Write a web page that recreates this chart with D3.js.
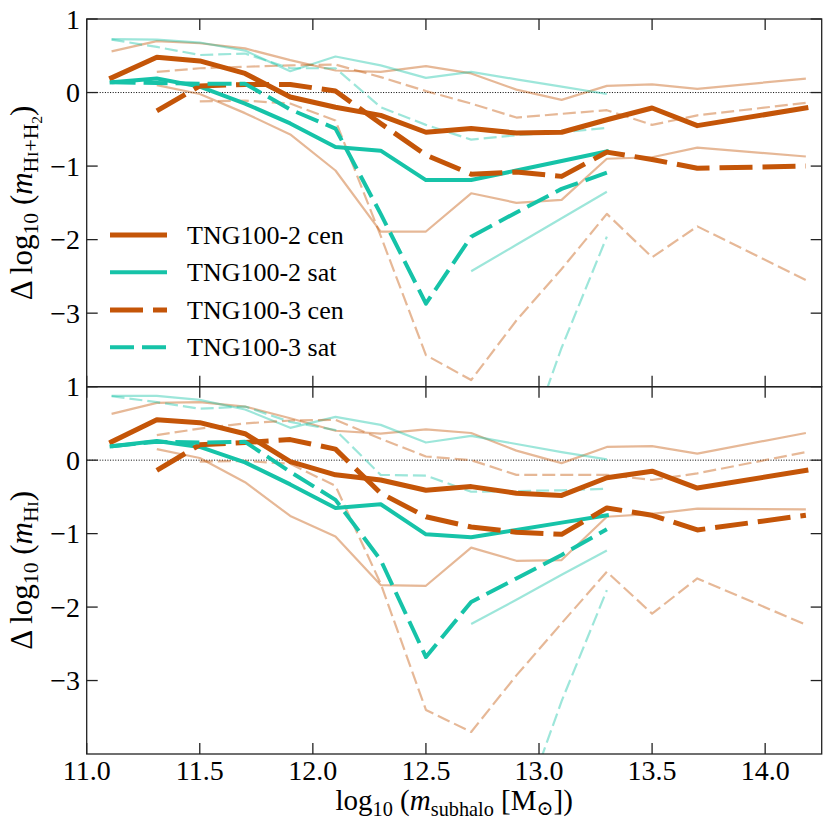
<!DOCTYPE html>
<html><head><meta charset="utf-8">
<script src="https://cdn.jsdelivr.net/npm/d3@7"></script>
<style>body{margin:0;background:#fff}svg{display:block}svg text{font-family:"Liberation Serif","DejaVu Serif",serif}</style>
</head><body><svg id="c" width="830" height="830"></svg>
<script>
// ---------------- data ----------------
const massBins = [11.11, 11.31, 11.5, 11.7, 11.9, 12.1, 12.3, 12.5, 12.7, 12.9, 13.1, 13.3, 13.5, 13.7, 14.18];
const xTickValues = [11.0, 11.5, 12.0, 12.5, 13.0, 13.5, 14.0];
const yTickValues = [1, 0, -1, -2, -3];
const seriesNames = ["TNG100-2 cen", "TNG100-2 sat", "TNG100-3 cen", "TNG100-3 sat"];

// top panel: HI+H2
const gasCen2Med = [0.20, 0.48, 0.43, 0.26, -0.06, -0.20, -0.31, -0.54, -0.49, -0.55, -0.54, -0.37, -0.21, -0.45, -0.21];
const gasCen2Hi  = [0.56, 0.70, 0.67, 0.60, 0.44, 0.30, 0.28, 0.36, 0.26, 0.04, -0.10, 0.09, 0.11, 0.05, 0.19];
const gasCen2Lo  = [null, 0.10, -0.02, -0.28, -0.57, -1.06, -1.89, -1.89, -1.37, -1.50, -1.46, -0.90, -0.88, -0.75, -0.87];
const gasSat2Med = [0.14, 0.19, 0.08, -0.15, -0.42, -0.74, -0.79, -1.19, -1.19, -1.06, -0.93, -0.80, null, null, null];
const gasSat2Hi  = [0.725, 0.72, 0.68, 0.57, 0.29, 0.49, 0.37, 0.20, 0.28, 0.18, 0.08, -0.02, null, null, null];
const gasSat2Lo  = [null, null, null, null, null, null, null, null, -2.43, -2.07, -1.71, -1.35, null, null, null];
const gasCen3Med = [null, -0.25, 0.09, 0.11, 0.11, 0.02, -0.42, -0.85, -1.11, -1.08, -1.14, -0.81, -0.91, -1.03, -1.00];
const gasCen3Hi  = [null, 0.28, 0.33, 0.35, 0.37, 0.38, 0.21, 0.02, -0.15, -0.34, -0.29, -0.24, -0.44, -0.31, -0.14];
const gasCen3Lo  = [null, null, -0.12, -0.11, -0.15, -0.38, -1.95, -3.57, -3.91, -3.10, -2.40, -1.65, -2.24, -1.82, -2.55];
const gasSat3Med = [0.14, 0.13, 0.12, 0.12, -0.23, -0.49, -1.65, -2.87, -1.96, -1.63, -1.31, -1.09, null, null, null];
const gasSat3Hi  = [0.72, 0.62, 0.51, 0.53, 0.33, 0.33, -0.20, -0.44, -0.64, -0.58, -0.54, -0.48, null, null, null];
const gasSat3Lo  = [null, null, null, null, null, null, null, null, null, -5.2, -3.47, -1.96, null, null, null];

// bottom panel: HI
const hiCen2Med = [0.25, 0.55, 0.51, 0.36, -0.02, -0.20, -0.27, -0.41, -0.36, -0.45, -0.48, -0.24, -0.15, -0.38, -0.14];
const hiCen2Hi  = [0.63, 0.78, 0.79, 0.73, 0.57, 0.40, 0.36, 0.42, 0.37, 0.13, -0.04, 0.18, 0.19, 0.09, 0.37];
const hiCen2Lo  = [null, 0.15, 0.03, -0.30, -0.76, -1.04, -1.70, -1.71, -1.19, -1.37, -1.36, -0.77, -0.73, -0.66, -0.67];
const hiSat2Med = [0.19, 0.26, 0.18, -0.03, -0.33, -0.65, -0.60, -1.01, -1.05, -0.95, -0.85, -0.75, null, null, null];
const hiSat2Hi  = [0.875, 0.875, 0.82, 0.69, 0.44, 0.59, 0.48, 0.24, 0.33, 0.22, 0.11, 0.01, null, null, null];
const hiSat2Lo  = [null, null, null, null, null, null, null, null, -2.23, -1.90, -1.56, -1.23, null, null, null];
const hiCen3Med = [null, -0.14, 0.21, 0.24, 0.28, 0.15, -0.45, -0.77, -0.91, -0.98, -1.01, -0.65, -0.75, -0.95, -0.75];
const hiCen3Hi  = [null, 0.34, 0.43, 0.50, 0.54, 0.55, 0.29, 0.05, 0.00, -0.20, -0.20, -0.20, -0.27, -0.18, 0.11];
const hiCen3Lo  = [null, null, -0.02, -0.01, -0.05, -0.35, -1.68, -3.40, -3.70, -2.93, -2.22, -1.52, -2.09, -1.61, -2.24];
const hiSat3Med = [0.19, 0.25, 0.24, 0.25, -0.16, -0.54, -1.36, -2.68, -1.93, -1.61, -1.29, -0.94, null, null, null];
const hiSat3Hi  = [0.87, 0.79, 0.70, 0.73, 0.52, 0.41, -0.20, -0.21, -0.43, -0.42, -0.41, -0.39, null, null, null];
const hiSat3Lo  = [null, null, null, null, null, null, null, null, null, -5.0, -3.28, -1.77, null, null, null];

// ---------------- styling ----------------
const CEN = "#c45508", SAT = "#16c3a8";
const styles = [
  {color: CEN, w: 5,  dash: null},
  {color: SAT, w: 4,  dash: null},
  {color: CEN, w: 5,  dash: "33,10"},
  {color: SAT, w: 4,  dash: "24,8"}
];

const panels = [
  {top: 19, bottom: 386.7, sets: [
    [gasCen2Med, gasCen2Hi, gasCen2Lo], [gasSat2Med, gasSat2Hi, gasSat2Lo],
    [gasCen3Med, gasCen3Hi, gasCen3Lo], [gasSat3Med, gasSat3Hi, gasSat3Lo]],
   label: [{t:"Δ log"},{t:"10",s:0.7,o:6},{t:" ("},{t:"m",it:1},{t:"H",s:0.7,o:6},{t:"I",s:0.5,o:6},{t:"+H",s:0.7,o:6},{t:"2",s:0.5,o:10},{t:")"}]},
  {top: 386.7, bottom: 754, sets: [
    [hiCen2Med, hiCen2Hi, hiCen2Lo], [hiSat2Med, hiSat2Hi, hiSat2Lo],
    [hiCen3Med, hiCen3Hi, hiCen3Lo], [hiSat3Med, hiSat3Hi, hiSat3Lo]],
   label: [{t:"Δ log"},{t:"10",s:0.7,o:6},{t:" ("},{t:"m",it:1},{t:"H",s:0.7,o:6},{t:"I",s:0.5,o:6},{t:")"}]}
];

const L = 86.7, R = 821.7;
const svg = d3.select("#c");
const x = d3.scaleLinear().domain([11.0, 14.25]).range([L, R]);

function rich(sel, segs, base) {
  let prev = 0;
  segs.forEach(sg => {
    const o = sg.o || 0;
    sel.append("tspan").text(sg.t)
      .style("font-size", (base * (sg.s || 1)) + "px")
      .style("font-style", sg.it ? "italic" : "normal")
      .attr("dy", o - prev);
    prev = o;
  });
}

panels.forEach((p, pi) => {
  const y = d3.scaleLinear().domain([-4, 1]).range([p.bottom, p.top]);
  const clipId = "clip" + pi;
  svg.append("clipPath").attr("id", clipId).append("rect")
    .attr("x", L).attr("y", p.top).attr("width", R - L).attr("height", p.bottom - p.top);
  const g = svg.append("g").attr("clip-path", `url(#${clipId})`);

  // zero line
  g.append("line").attr("x1", L).attr("x2", R).attr("y1", y(0)).attr("y2", y(0))
    .attr("stroke", "#000").attr("stroke-width", 1).attr("stroke-dasharray", "1,1.6");

  const line = d3.line().defined(d => d[1] !== null)
    .x(d => x(d[0])).y(d => y(d[1]));
  const pts = arr => massBins.map((m, i) => [m, arr[i]]);

  // light percentile lines
  p.sets.forEach((set, si) => {
    const st = styles[si];
    [set[1], set[2]].forEach(arr => {
      g.append("path").attr("d", line(pts(arr))).attr("fill", "none")
        .attr("stroke", st.color).attr("stroke-opacity", 0.42)
        .attr("stroke-width", 2.2).attr("stroke-linejoin", "round")
        .attr("stroke-dasharray", st.dash ? "13,5" : null);
    });
  });
  // bold medians
  p.sets.forEach((set, si) => {
    const st = styles[si];
    g.append("path").attr("d", line(pts(set[0]))).attr("fill", "none")
      .attr("stroke", st.color).attr("stroke-width", st.w)
      .attr("stroke-linejoin", "round")
      .attr("stroke-linecap", st.dash ? "butt" : "square")
      .attr("stroke-dasharray", st.dash);
  });

  // axes frame & ticks (inward)
  const ax = svg.append("g").attr("stroke", "#222").attr("stroke-width", 1.3);
  ax.append("rect").attr("x", L).attr("y", p.top).attr("width", R - L).attr("height", p.bottom - p.top).attr("fill", "none");
  xTickValues.forEach(v => {
    ax.append("line").attr("x1", x(v)).attr("x2", x(v)).attr("y1", p.bottom).attr("y2", p.bottom - 11);
    ax.append("line").attr("x1", x(v)).attr("x2", x(v)).attr("y1", p.top).attr("y2", p.top + 11);
  });
  yTickValues.forEach(v => {
    ax.append("line").attr("x1", L).attr("x2", L + 11).attr("y1", y(v)).attr("y2", y(v));
    ax.append("line").attr("x1", R).attr("x2", R - 11).attr("y1", y(v)).attr("y2", y(v));
  });
  // y tick labels
  yTickValues.forEach(v => {
    svg.append("text").attr("x", 80).attr("y", y(v) + 9.5)
      .attr("text-anchor", "end").style("font-size", "28px")
      .text(v < 0 ? "\u2212" + Math.abs(v) : String(v));
  });
  // y axis label
  const cy = (p.top + p.bottom) / 2;
  const t = svg.append("text").attr("transform", `translate(32,${cy}) rotate(-90)`)
    .attr("text-anchor", "middle");
  rich(t, p.label, 31);
});

// x tick labels
xTickValues.forEach(v => {
  svg.append("text").attr("x", x(v)).attr("y", 780).attr("text-anchor", "middle")
    .style("font-size", "28px").text(v.toFixed(1));
});
// x axis label
const xl = svg.append("text").attr("x", (L + R) / 2).attr("y", 810).attr("text-anchor", "middle");
rich(xl, [{t:"log"},{t:"10",s:0.7,o:6},{t:" ("},{t:"m",it:1},{t:"subhalo",s:0.7,o:6},{t:" [M"},{t:"\u2299",s:0.7,o:5},{t:"])"}], 29);

// legend
const legRows = [235, 272.3, 310, 347.3];
seriesNames.forEach((name, i) => {
  const st = styles[i];
  svg.append("line").attr("x1", 110).attr("x2", 167).attr("y1", legRows[i]).attr("y2", legRows[i])
    .attr("stroke", st.color).attr("stroke-width", st.w)
    .attr("stroke-dasharray", st.dash);
  svg.append("text").attr("x", 187).attr("y", legRows[i] + 9)
    .style("font-size", "26px").text(name);
});
</script></body></html>
